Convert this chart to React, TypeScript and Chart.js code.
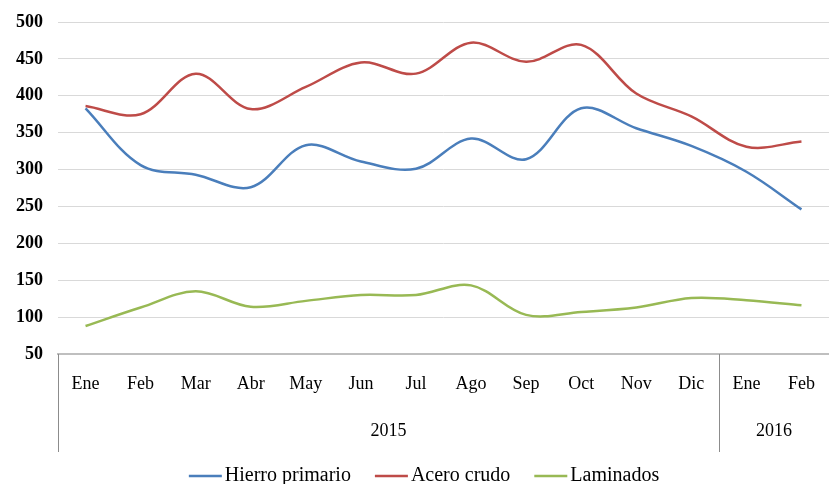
import React, { useEffect, useRef } from "react";
import { Chart, registerables } from "chart.js";

Chart.register(...registerables);

// Monthly index values, Ene 2015 – Feb 2016
const months = ["Ene", "Feb", "Mar", "Abr", "May", "Jun", "Jul", "Ago", "Sep", "Oct", "Nov", "Dic", "Ene", "Feb"];
const years = ["2015", "2016"];
const yearMonthCounts = [12, 2];

const hierroPrimario = [383, 306, 293, 276, 333, 311, 301, 342, 314, 383, 356, 332, 297, 246];
const aceroCrudo = [386, 375, 430, 382, 412, 445, 430, 472, 446, 469, 403, 372, 331, 338];
const laminados = [88, 113, 135, 114, 122, 130, 130, 143, 103, 107, 113, 126, 123, 116];

const seriesNames = ["Hierro primario", "Acero crudo", "Laminados"];
const seriesColors = ["#4a7ebb", "#be4b48", "#98b954"];

const yTicks = { min: 50, max: 500, step: 50 };

const SERIF = "'Liberation Serif', 'DejaVu Serif', serif";

// Draws the year grouping row under the month labels and the legend line.
const groupAndLegendPlugin = {
  id: "groupAndLegend",
  afterDraw(chart: any) {
    const { ctx, chartArea, scales } = chart;
    const x = scales.x;
    const bottom = chartArea.bottom;
    const groupBottom = bottom + 98;

    ctx.save();
    // group separators
    const boundaries: number[] = [chartArea.left];
    let idx = 0;
    yearMonthCounts.forEach((count, i) => {
      idx += count;
      if (i < yearMonthCounts.length - 1) {
        boundaries.push((x.getPixelForValue(idx - 1) + x.getPixelForValue(idx)) / 2);
      } else {
        boundaries.push(chartArea.right);
      }
    });
    ctx.strokeStyle = "#8c8c8c";
    ctx.lineWidth = 1;
    for (let i = 0; i < boundaries.length - 1; i++) {
      const bx = Math.round(boundaries[i]) + 0.5;
      ctx.beginPath();
      ctx.moveTo(bx, bottom);
      ctx.lineTo(bx, groupBottom);
      ctx.stroke();
    }

    // year labels
    ctx.fillStyle = "#000";
    ctx.font = `18px ${SERIF}`;
    ctx.textAlign = "center";
    ctx.textBaseline = "middle";
    years.forEach((yr, i) => {
      ctx.fillText(yr, (boundaries[i] + boundaries[i + 1]) / 2, bottom + 77);
    });

    // legend
    const lineLen = 33;
    const lineGap = 3;
    const itemGap = 24;
    ctx.font = `20px ${SERIF}`;
    const widths = seriesNames.map((n) => ctx.measureText(n).width);
    const total = widths.reduce((a, w) => a + lineLen + lineGap + w, 0) + itemGap * (seriesNames.length - 1);
    let lx = 424 - total / 2;
    const ly = 476;
    ctx.textAlign = "left";
    seriesNames.forEach((name, i) => {
      ctx.strokeStyle = seriesColors[i];
      ctx.lineWidth = 2.5;
      ctx.beginPath();
      ctx.moveTo(lx, ly);
      ctx.lineTo(lx + lineLen, ly);
      ctx.stroke();
      lx += lineLen + lineGap;
      ctx.fillStyle = "#000";
      ctx.fillText(name, lx, ly);
      lx += widths[i] + itemGap;
    });
    ctx.restore();
  },
};

export default function App() {
  const canvasRef = useRef<HTMLCanvasElement | null>(null);

  useEffect(() => {
    if (!canvasRef.current) return;
    const datasets = [hierroPrimario, aceroCrudo, laminados].map((values, i) => ({
      label: seriesNames[i],
      data: values,
      borderColor: seriesColors[i],
      backgroundColor: seriesColors[i],
      borderWidth: 2.5,
      pointRadius: 0,
      tension: 0.35,
      fill: false,
    }));

    const chart = new Chart(canvasRef.current, {
      type: "line",
      data: { labels: months, datasets },
      plugins: [groupAndLegendPlugin],
      options: {
        animation: false,
        responsive: false,
        maintainAspectRatio: false,
        layout: { padding: { top: 22, left: 0, right: 0, bottom: 0 } },
        plugins: {
          legend: { display: false },
          tooltip: { enabled: false },
        },
        scales: {
          x: {
            type: "category",
            offset: true,
            grid: { display: false, drawTicks: false },
            border: { display: true, color: "#bfbfbf", width: 2 },
            ticks: {
              color: "#000",
              font: { family: SERIF, size: 18 },
              padding: 19,
              maxRotation: 0,
              autoSkip: false,
            },
            afterFit: (scale: any) => {
              scale.height = 130;
              scale.paddingLeft = 0;
              scale.paddingRight = 0;
            },
          },
          y: {
            min: yTicks.min,
            max: yTicks.max,
            grid: { color: "#d9d9d9", lineWidth: 1, drawTicks: false },
            border: { display: false },
            ticks: {
              stepSize: yTicks.step,
              color: "#000",
              font: { family: SERIF, size: 18, weight: "bold" },
              padding: 15,
            },
            afterFit: (scale: any) => {
              scale.width = 58;
              scale.paddingTop = 0;
              scale.paddingBottom = 0;
            },
          },
        },
      },
    });
    return () => chart.destroy();
  }, []);

  return (
    <div style={{ position: "fixed", left: 0, top: 0, width: 829, height: 484, background: "#fff" }}>
      <canvas ref={canvasRef} width={829} height={484} style={{ width: 829, height: 484, display: "block" }} />
    </div>
  );
}
